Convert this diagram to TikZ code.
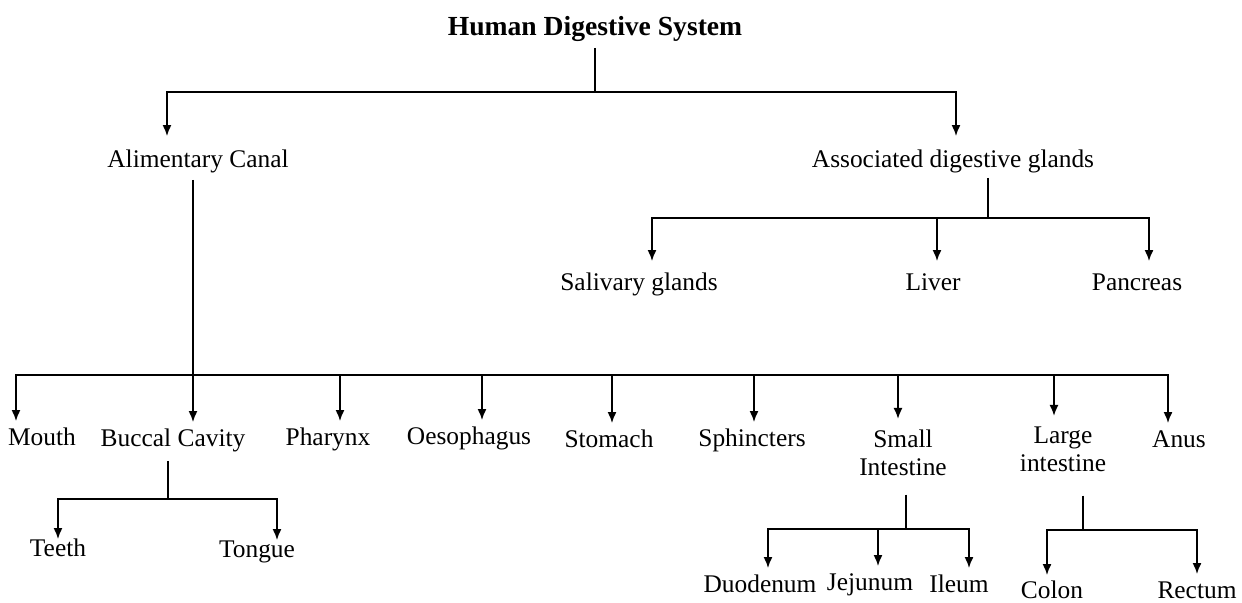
\documentclass[tikz,border=0pt]{standalone}
\usepackage{fontspec}
\setmainfont{Liberation Serif}
\usetikzlibrary{arrows.meta,calc}
\tikzset{>={Latex[length=5.5pt,width=4.5pt]}}
\tikzstyle{head}=[inner sep=0pt, anchor=base, text height=0.7em, text depth=0.25em, font=\bfseries\fontsize{13.8}{16}\selectfont]
\tikzstyle{part}=[inner sep=0pt, anchor=base, text height=0.7em, text depth=0.25em, font=\fontsize{12.7}{14}\selectfont]
\tikzstyle{part2}=[inner sep=0pt, anchor=north, align=center, font=\fontsize{12.7}{14}\selectfont]

\begin{document}
\begin{tikzpicture}[x=0.5pt, y=-0.5pt, line width=0.9pt]
\fill[white] (0,0) rectangle (1242,603);
\useasboundingbox (0,0) rectangle (1242,603);

% labels
\node[head] (hds) at (595,36) {Human Digestive System};
\node[part] (alim) at (198,168) {Alimentary Canal};
\node[part] (glands) at (953,168) {Associated digestive glands};
\node[part] (saliv) at (639,291) {Salivary glands};
\node[part] (liver) at (933,291) {Liver};
\node[part] (panc) at (1137,291) {Pancreas};
\node[part] (mouth) at (42,446) {Mouth};
\node[part] (buccal) at (173,447) {Buccal Cavity};
\node[part] (phar) at (328,446) {Pharynx};
\node[part] (oeso) at (469,445) {Oesophagus};
\node[part] (stom) at (609,448) {Stomach};
\node[part] (sphin) at (752,447) {Sphincters};
\node[part2] (small) at (903,429) {Small\\Intestine};
\node[part2] (large) at (1063,426) {Large\\intestine};
\node[part] (anus) at (1179,448) {Anus};
\node[part] (teeth) at (58,557) {Teeth};
\node[part] (tongue) at (257,558) {Tongue};
\node[part] (duod) at (760,593) {Duodenum};
\node[part] (jeju) at (870,591) {Jejunum};
\node[part] (ileum) at (959,593) {Ileum};
\node[part] (colon) at (1052,599) {Colon};
\node[part] (rect) at (1197,598) {Rectum};

% junctions
\coordinate (hds-j) at (595,92);
\coordinate (alim-j) at (193,375);
\coordinate (glands-j) at (988,218);
\coordinate (buccal-j) at (168,499);
\coordinate (small-j) at (906,529);
\coordinate (large-j) at (1083,530);

\foreach \n/\dy in {hds/6, alim/6, glands/4, buccal/8, small/18, large/23}
  \draw ($(\n.south -| \n-j)+(0,\dy)$) -- (\n-j);

\foreach \n/\dx in {alim/-31, glands/3}
  \draw[->] (hds-j) -| ($(\n.north)+(\dx,-17)$);
\foreach \n/\dx in {saliv/13, liver/4, panc/12}
  \draw[->] (glands-j) -| ($(\n.north)+(\dx,-15)$);
\foreach \n/\dx in {mouth/-26, buccal/20, phar/12, oeso/13, stom/3, sphin/2, small/-5, large/-9, anus/-11}
  \draw[->] (alim-j) -| ($(\n.north)+(\dx,-10)$);
\foreach \n/\dx in {teeth/0, tongue/20}
  \draw[->] (buccal-j) -| ($(\n.north)+(\dx,-3)$);
\foreach \n/\dx in {duod/8, jeju/8, ileum/10}
  \draw[->] (small-j) -| ($(\n.north)+(\dx,-10)$);
\foreach \n/\dx in {colon/-5, rect/0}
  \draw[->] (large-j) -| ($(\n.north)+(\dx,-9)$);
\end{tikzpicture}
\end{document}
